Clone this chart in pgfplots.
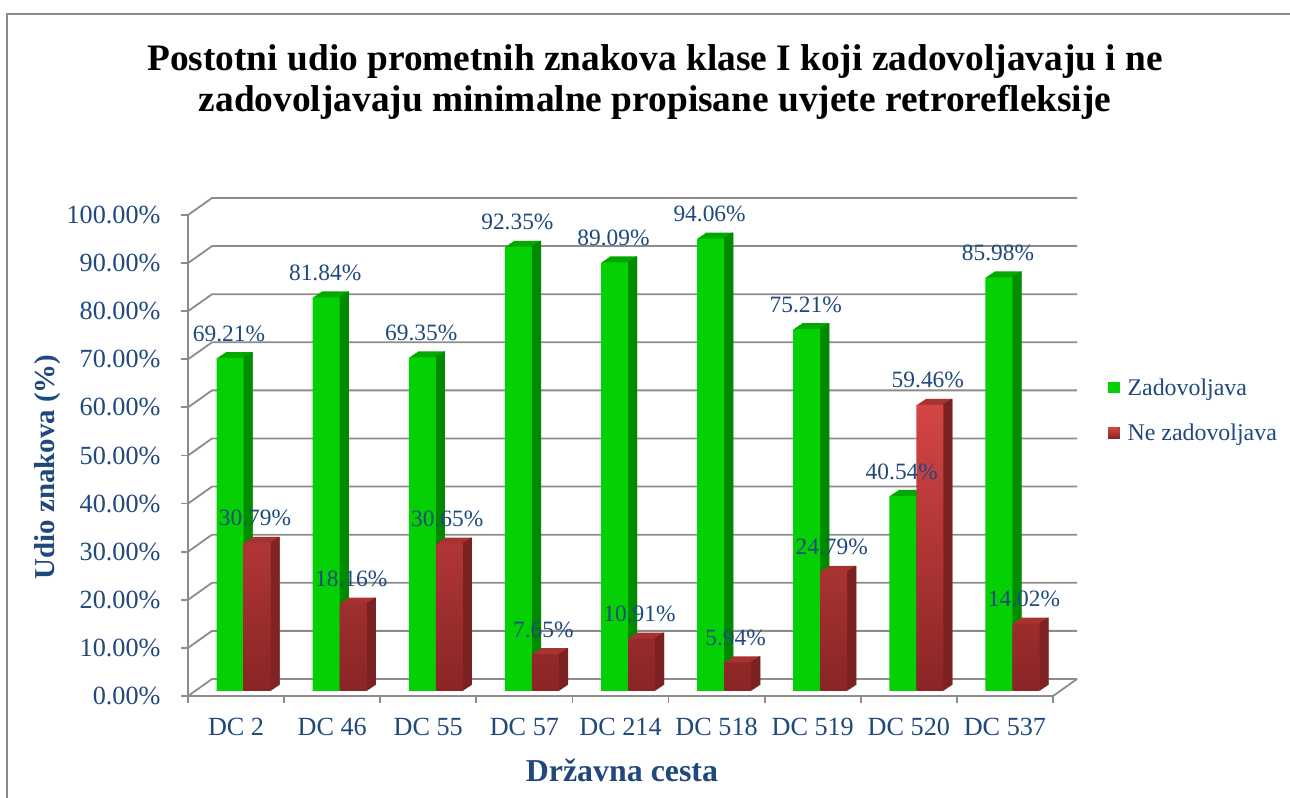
\documentclass[border=0pt]{standalone}
\usepackage{fontspec}
\setmainfont{Liberation Serif}
\usepackage{pgfplots}
\usepackage{pgfplotstable}
\pgfplotsset{compat=1.18}
\definecolor{txtblue}{HTML}{1F497D}
\definecolor{gridgray}{HTML}{8C8C8C}
\definecolor{framegray}{HTML}{8A8A8A}
\definecolor{gfront}{HTML}{04D004}
\definecolor{gtop}{HTML}{00A800}
\definecolor{gside}{HTML}{008A00}
\definecolor{rtopc}{HTML}{D44545}
\definecolor{rbot}{HTML}{8A2525}
\definecolor{rtop}{HTML}{A83232}
\definecolor{rside}{HTML}{7A2222}

\pgfplotstableread{
idx zad ne
0 69.21 30.79
1 81.84 18.16
2 69.35 30.65
3 92.35 7.65
4 89.09 10.91
5 94.06 5.94
6 75.21 24.79
7 40.54 59.46
8 85.98 14.02
}\datatable

\begin{document}
\begin{tikzpicture}
\useasboundingbox (0,0) rectangle (1290bp,798bp);
\fill[white] (0,0) rectangle (1290bp,798bp);
\draw[framegray, line width=2bp] (7bp,-10bp) -- (7bp,784bp) -- (1300bp,784bp);
\begin{axis}[
  at={(188bp,102bp)}, anchor=south west,
  scale only axis, width=865bp, height=481bp,
  clip=false,
  xmin=-0.5, xmax=8.5, ymin=0, ymax=100,
  axis x line*=bottom, axis y line*=left,
  axis line style={draw=gridgray, line width=1.8bp},
  xtick={-0.5,0.5,...,7.5},
  xticklabels={DC 2,DC 46,DC 55,DC 57,DC 214,DC 518,DC 519,DC 520,DC 537},
  xticklabel style={xshift=48.05bp, yshift=-12bp},
  yticklabel style={xshift=-17bp},
  extra x ticks={8.5},
  extra x tick labels={},
  tick align=outside,
  major tick length=7bp,
  tick style={draw=gridgray, line width=1.8bp},
  ytick={0,10,...,100},
  yticklabel={\pgfmathprintnumber[fixed,fixed zerofill,precision=2]{\tick}\%},
  /pgf/number format/assume math mode=true,
  ticklabel style={font=\fontsize{26.3}{30}\selectfont, text=txtblue},
  title={Postotni udio prometnih znakova klase I koji zadovoljavaju i ne\\zadovoljavaju minimalne propisane uvjete retrorefleksije},
  title style={at={(axis description cs:0.54,1.264)}, anchor=center, align=center, font=\fontsize{37.5}{42}\selectfont\bfseries},
  xlabel={Državna cesta},
  xlabel style={at={(axis description cs:0.5017,-0.1538)}, anchor=center, font=\fontsize{32}{36}\selectfont\bfseries, text=txtblue},
  ylabel={Udio znakova (\%)},
  ylabel style={at={(axis description cs:-0.1618,0.476)}, anchor=center, font=\fontsize{29}{34}\selectfont\bfseries, text=txtblue},
  legend style={at={(axis description cs:1.0634,0.5936)}, anchor=west, draw=none, fill=none, font=\fontsize{24}{28}\selectfont, text=txtblue, inner xsep=0pt, row sep=23bp, column sep=6bp},
  legend cell align=left,
  legend image code/.code={\fill[#1,yshift=-5bp] (0bp,-5.5bp) rectangle (11.5bp,6bp);},
]
% back wall grid, side wall and floor edges
\pgfplotsinvokeforeach{0,10,...,100}{
  \draw[gridgray, line width=1.8bp] (axis cs:-0.5,#1) -- ([xshift=24bp,yshift=17bp]axis cs:-0.5,#1) -- ([xshift=24bp,yshift=17bp]axis cs:8.5,#1);
}
\draw[gridgray, line width=1.8bp] (axis cs:8.5,0) -- ([xshift=24bp,yshift=17bp]axis cs:8.5,0);

% green: top depth, side depth, front
\pgfplotsinvokeforeach{1,...,9}{
  \addplot[ybar, bar width=27bp, bar shift={-6bp+#1bp}, yshift={5bp+#1*0.667bp}, fill=gtop, draw=none, forget plot] table[x=idx,y=zad]{\datatable};
}
\pgfplotsinvokeforeach{1,...,9}{
  \addplot[ybar, bar width=1.3bp, bar shift={7bp+#1bp}, yshift={5bp+#1*0.667bp}, fill=gside, draw=none, forget plot] table[x=idx,y=zad]{\datatable};
}
\addplot[ybar, bar width=27bp, bar shift=-6bp, yshift=5bp, fill=gfront, draw=none] table[x=idx,y=zad]{\datatable};
\addlegendentry{Zadovoljava}

% red
\pgfplotsinvokeforeach{1,...,9}{
  \addplot[ybar, bar width=27bp, bar shift={21bp+#1bp}, yshift={5bp+#1*0.667bp}, fill=rtop, draw=none, forget plot] table[x=idx,y=ne]{\datatable};
}
\pgfplotsinvokeforeach{1,...,9}{
  \addplot[ybar, bar width=1.3bp, bar shift={34bp+#1bp}, yshift={5bp+#1*0.667bp}, fill=rside, draw=none, forget plot] table[x=idx,y=ne]{\datatable};
}
\addplot[ybar, bar width=27bp, bar shift=21bp, yshift=5bp, draw=none, top color=rtopc, bottom color=rbot] table[x=idx,y=ne]{\datatable};
\addlegendentry{Ne zadovoljava}

% value labels on top
\addplot[ybar, bar width=27bp, bar shift=-6bp, yshift=5bp, draw=none, fill=none, forget plot,
  point meta=explicit symbolic, nodes near coords={\pgfplotspointmeta\%},
  every node near coord/.append style={anchor=base, xshift=-7bp, yshift=17bp, inner sep=0pt, font=\fontsize{23.5}{28}\selectfont, text=txtblue}]
  table[x=idx,y=zad,meta=zad]{\datatable};
\addplot[ybar, bar width=27bp, bar shift=21bp, yshift=5bp, draw=none, fill=none, forget plot,
  point meta=explicit symbolic, nodes near coords={\pgfplotspointmeta\%},
  every node near coord/.append style={anchor=base, xshift=19bp, yshift=17bp, inner sep=0pt, font=\fontsize{23.5}{28}\selectfont, text=txtblue}]
  table[x=idx,y=ne,meta=ne]{\datatable};
\end{axis}
\end{tikzpicture}
\end{document}
